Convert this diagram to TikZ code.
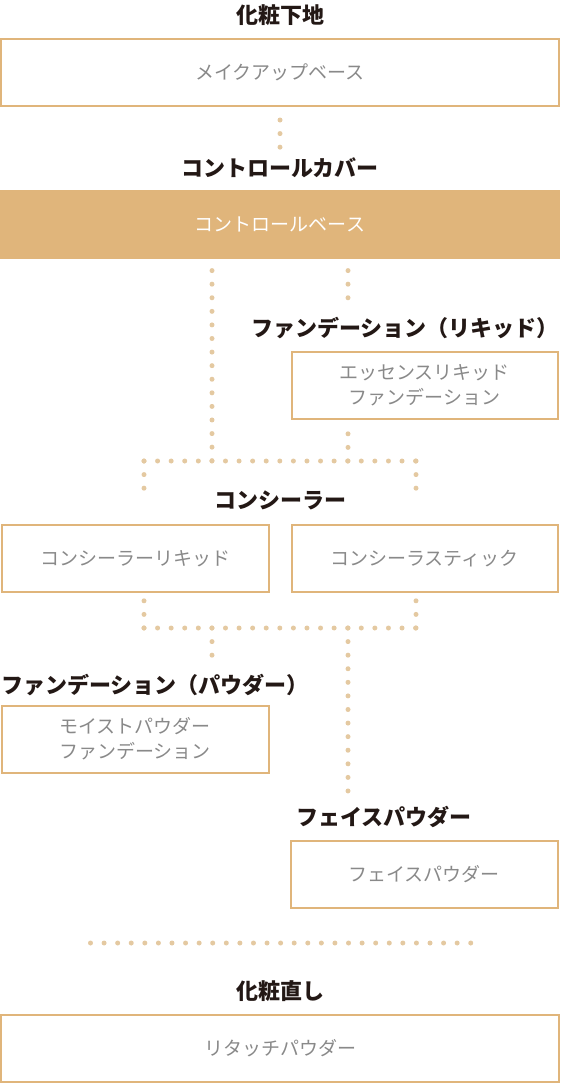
\documentclass[tikz,border=0pt]{standalone}
\usepackage{fontspec}
\setmainfont{Noto Sans CJK JP}
\usepackage{tikz}
\usetikzlibrary{positioning}
\definecolor{Dorado}{HTML}{E0B57B}
\definecolor{DoradoClaro}{HTML}{E4C9A1}
\definecolor{GrisTexto}{HTML}{898989}
\definecolor{Tinta}{HTML}{231815}

\begin{document}
\begin{tikzpicture}[
  x=1pt,y=-1pt,
  titulo/.style={font=\fontsize{22}{26}\selectfont\bfseries,text=Tinta,inner sep=0pt},
  caja/.style={draw=Dorado,line width=2pt,minimum height=67pt,inner sep=0pt,align=center,
    text=GrisTexto,font=\fontsize{19}{25}\selectfont},
  cajallena/.style={fill=Dorado,minimum width=560pt,minimum height=69pt,inner sep=0pt,
    text=white,font=\fontsize{19}{25}\selectfont},
  puntos/.style={draw=DoradoClaro,line width=5pt,line cap=round,dash pattern=on 0pt off 13.58pt}
]
  \useasboundingbox (0,0) rectangle (560,1084);

  % Bloques: titulo encima de cada caja.
  \node[titulo] (tit1) at (280,15) {化粧下地};
  \node[caja,minimum width=558pt] (base) at (280,72) {メイクアップベース};
  \node[titulo] (tit2) at (280,168) {コントロールカバー};
  \node[cajallena] (control) at (280,224.5) {コントロールベース};
  \node[titulo] (tit3) at (405,328) {ファンデーション（リキッド）};
  \node[caja,minimum width=266pt] (liquida) at (424.5,385.5)
    {エッセンスリキッド\\ファンデーション};
  \node[titulo] (tit4) at (280,500) {コンシーラー};
  \node[caja,minimum width=267pt] (concliq) at (135,558.5) {コンシーラーリキッド};
  \node[caja,minimum width=266pt] (concbar) at (424.5,558.5) {コンシーラスティック};
  \node[titulo] (tit5) at (155,685) {ファンデーション（パウダー）};
  \node[caja,minimum width=267pt] (polvo) at (135,739) {モイストパウダー\\ファンデーション};
  \node[titulo] (tit6) at (384,817) {フェイスパウダー};
  \node[caja,minimum width=267pt] (facial) at (424,874.5) {フェイスパウダー};
  \node[titulo] (tit7) at (280,991) {化粧直し};
  \node[caja,minimum width=558pt] (retoque) at (280,1048.5) {リタッチパウダー};

  % Puntos de union entre bloques.
  \coordinate (a1) at (280,120);    \coordinate (a2) at (280,147.2);
  \coordinate (c1) at (212,270.6);  \coordinate (c2) at (348,270.6);
  \coordinate (c3) at (348,297.8);  \coordinate (c4) at (348,433.8);
  \coordinate (h1l) at (144,461);   \coordinate (h1r) at (416,461);
  \coordinate (h1a) at (212,461);   \coordinate (h1b) at (348,461);
  \coordinate (b1l) at (144,488.2); \coordinate (b1r) at (416,488.2);
  \coordinate (s2l) at (144,600.8); \coordinate (s2r) at (416,600.8);
  \coordinate (h2l) at (144,628);   \coordinate (h2r) at (416,628);
  \coordinate (h2a) at (212,628);   \coordinate (h2b) at (348,628);
  \coordinate (p1) at (212,655.2);  \coordinate (p2) at (348,791.2);
  \coordinate (r1) at (90.5,943);   \coordinate (r2) at (471.3,943);

  \draw[puntos] (a1) -- (a2);
  \draw[puntos] (c1) -- (h1a);
  \draw[puntos] (c2) -- (c3);
  \draw[puntos] (c4) -- (h1b);
  \draw[puntos] (h1l) -- (h1r);
  \draw[puntos] (h1l) -- (b1l);
  \draw[puntos] (h1r) -- (b1r);
  \draw[puntos] (s2l) -- (h2l);
  \draw[puntos] (s2r) -- (h2r);
  \draw[puntos] (h2l) -- (h2r);
  \draw[puntos] (h2a) -- (p1);
  \draw[puntos] (h2b) -- (p2);
  \draw[puntos] (r1) -- (r2);
\end{tikzpicture}
\end{document}
